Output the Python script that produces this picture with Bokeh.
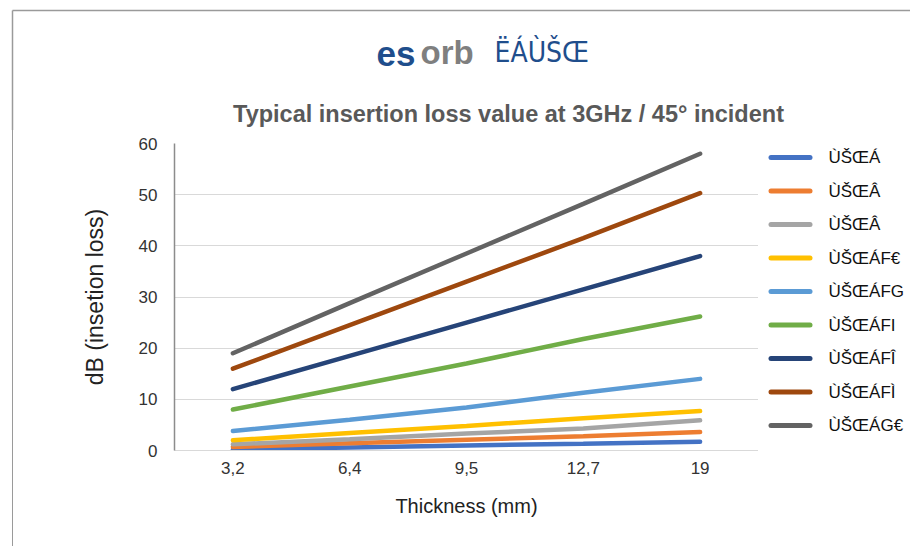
from bokeh.plotting import figure
from bokeh.models import Range1d, FactorRange, FixedTicker, Div
from bokeh.layouts import column, row
from bokeh.core.properties import value
from bokeh.embed import file_html
from bokeh.resources import INLINE

# ---- data ----
thickness = ["3,2", "6,4", "9,5", "12,7", "19"]
series_names = ["ÙŠŒÁ", "ÙŠŒÂ", "ÙŠŒÂ", "ÙŠŒÁF€", "ÙŠŒÁFG", "ÙŠŒÁFI", "ÙŠŒÁFÎ", "ÙŠŒÁFÌ", "ÙŠŒÁG€"]
s1 = [0.2, 0.6, 1.0, 1.3, 1.7]
s2 = [0.7, 1.4, 2.1, 2.8, 3.6]
s3 = [1.2, 2.2, 3.3, 4.3, 5.9]
s4 = [2.0, 3.4, 4.8, 6.3, 7.7]
s5 = [3.8, 6.0, 8.4, 11.3, 14.0]
s6 = [8.0, 12.5, 17.0, 21.8, 26.2]
s7 = [12.0, 18.5, 25.0, 31.5, 38.0]
s8 = [16.0, 24.5, 33.0, 41.5, 50.3]
s9 = [19.0, 28.8, 38.5, 48.2, 58.0]
series = [s1, s2, s3, s4, s5, s6, s7, s8, s9]
colors = ["#4472C4", "#ED7D31", "#A5A5A5", "#FFC000", "#5B9BD5",
          "#70AD47", "#264478", "#9E480E", "#636363"]
y_ticks = [0, 10, 20, 30, 40, 50, 60]
logo_parts = ["es", "orb", "ËÁÙŠŒ"]
chart_title = "Typical insertion loss value at 3GHz / 45° incident"

FONT = "Liberation Sans"
BORDER = "#9a9a9a"


def blank(width, height, yr=None):
    f = figure(width=width, height=height, output_backend="svg", toolbar_location=None,
               x_range=Range1d(0, width), y_range=Range1d(0, yr if yr else height),
               x_axis_type=None, y_axis_type=None,
               min_border_left=0, min_border_right=0,
               min_border_top=0, min_border_bottom=0)
    f.grid.visible = False
    f.outline_line_color = None
    return f


# ---- header (logo + title) ----
W = 910
HH = 130
h = blank(W, HH)
h.segment(x0=[12, 12], y0=[HH - 10, HH - 10], x1=[W, 12], y1=[HH - 10, 0],
          line_color=BORDER, line_width=1.5)
h.text(x=[376], y=[HH - 53], text=[logo_parts[0]], text_font=value(FONT),
       text_font_style="bold", text_font_size="35px", text_color="#1F4E8C",
       text_baseline="middle")
h.text(x=[420], y=[HH - 52], text=[logo_parts[1]], text_font=value(FONT),
       text_font_style="bold", text_font_size="33px", text_color="#7F7F7F",
       text_baseline="middle")
h.text(x=[494], y=[HH - 52], text=[logo_parts[2]],
       text_font=value("DejaVu Sans Condensed, Liberation Sans"),
       text_font_size="28px", text_color="#1F4E8C", text_baseline="middle")
h.text(x=[508], y=[HH - 113], text=[chart_title], text_font=value(FONT),
       text_font_style="bold", text_font_size="23.5px", text_color="#595959",
       text_align="center", text_baseline="middle")

MH = 416

# ---- left strip with slide border ----
strip = Div(width=13, height=MH, margin=0,
            styles={"border-right": "1.5px solid " + BORDER, "box-sizing": "border-box"})

# ---- main chart ----
p = figure(width=745, height=MH, output_backend="svg", toolbar_location=None,
           x_range=FactorRange(factors=thickness, range_padding=0),
           y_range=Range1d(0, 60),
           min_border_left=161, min_border_right=0,
           min_border_top=13, min_border_bottom=96)
p.outline_line_color = None

for name, vals, c in zip(series_names, series, colors):
    p.line(x=thickness, y=vals, line_color=c, line_width=4.5, line_cap="round")

p.yaxis.ticker = FixedTicker(ticks=y_ticks)
p.yaxis.axis_line_color = "#8c8c8c"
p.yaxis.axis_line_width = 1.5
p.yaxis.major_tick_line_color = None
p.yaxis.minor_tick_line_color = None
p.yaxis.major_label_standoff = 11
p.yaxis.axis_label = "dB (insetion loss)"
p.yaxis.axis_label_standoff = 28

p.xaxis.axis_line_color = "#d9d9d9"
p.xaxis.major_tick_line_color = None
p.xaxis.major_label_standoff = 5
p.xaxis.axis_label = "Thickness (mm)"
p.xaxis.axis_label_standoff = 18

for ax in (p.xaxis[0], p.yaxis[0]):
    ax.major_label_text_font = FONT
    ax.major_label_text_font_size = "17px"
    ax.major_label_text_color = "#333333"
    ax.axis_label_text_font = FONT
    ax.axis_label_text_font_style = "normal"
    ax.axis_label_text_color = "#222222"
p.xaxis.axis_label_text_font_size = "20px"
p.yaxis.axis_label_text_font_size = "23px"

p.xgrid.grid_line_color = None
p.ygrid.grid_line_color = "#d9d9d9"
p.ygrid.grid_line_width = 1.2

# ---- legend panel (its frame is aligned with the chart frame: 307 px tall) ----
LW = W - 13 - 745
FH = 307
lg = blank(LW, MH, yr=FH)
n = len(series_names)
row_y = [FH - 14 - 33.5 * i for i in range(n)]
lg.segment(x0=[12.5] * n, y0=row_y, x1=[51.5] * n, y1=row_y,
           line_color=colors, line_width=5, line_cap="round")
lg.text(x=[70] * n, y=row_y, text=series_names, text_font=value(FONT),
        text_font_size="17px", text_color="#111111", text_baseline="middle")

layout = column(h, row(strip, p, lg, spacing=0), spacing=0)

open("out.html", "w").write(file_html(layout, INLINE))
